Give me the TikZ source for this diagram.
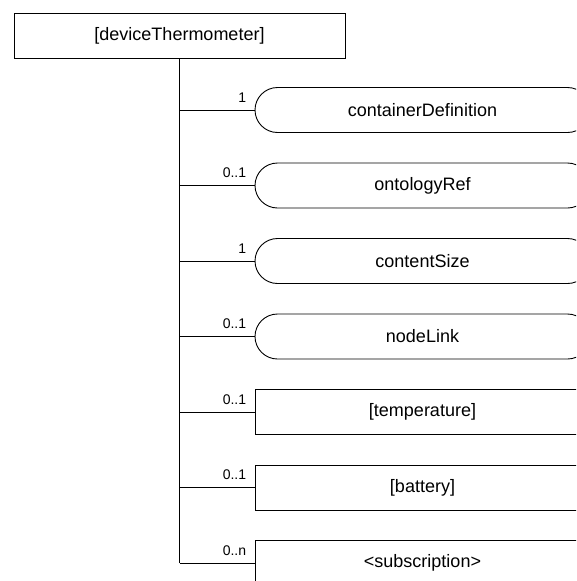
\documentclass[tikz,border=0pt]{standalone}
\usepackage{fontspec}
\setmainfont{Liberation Sans}
\usetikzlibrary{shapes.misc}
\tikzset{
  elem/.style={draw, line width=0.9pt, minimum width=335pt, minimum height=45pt, inner sep=0pt, font=\fontsize{18}{21}\selectfont},
  attr/.style={elem, rounded rectangle},
  mult/.style={anchor=south east, inner sep=0pt, xshift=-8pt, yshift=7pt, font=\fontsize{14}{16}\selectfont},
}
\begin{document}
\begin{tikzpicture}[x=1pt,y=-1pt,line width=0.9pt]
\clip (0,0) rectangle (576,581);
\node[elem, minimum width=331pt] (dev) at (179.5,35.5) {[deviceThermometer]};
\foreach \n/\t/\m/\s [count=\i] in {cdef/containerDefinition/1/attr, oref/ontologyRef/0..1/attr, csize/contentSize/1/attr, nlink/nodeLink/0..1/attr, temp/[temperature]/0..1/elem, batt/[battery]/0..1/elem, subs/<subscription>/0..n/elem}{
  \node[\s] (\n) at (422.5,{110+75.5*(\i-1)}) {\t};
  \draw (dev.south |- \n.west) -- (\n.west) node[mult]{\m};
}
\draw (dev.south) -- (dev.south |- subs.west);
\end{tikzpicture}
\end{document}
